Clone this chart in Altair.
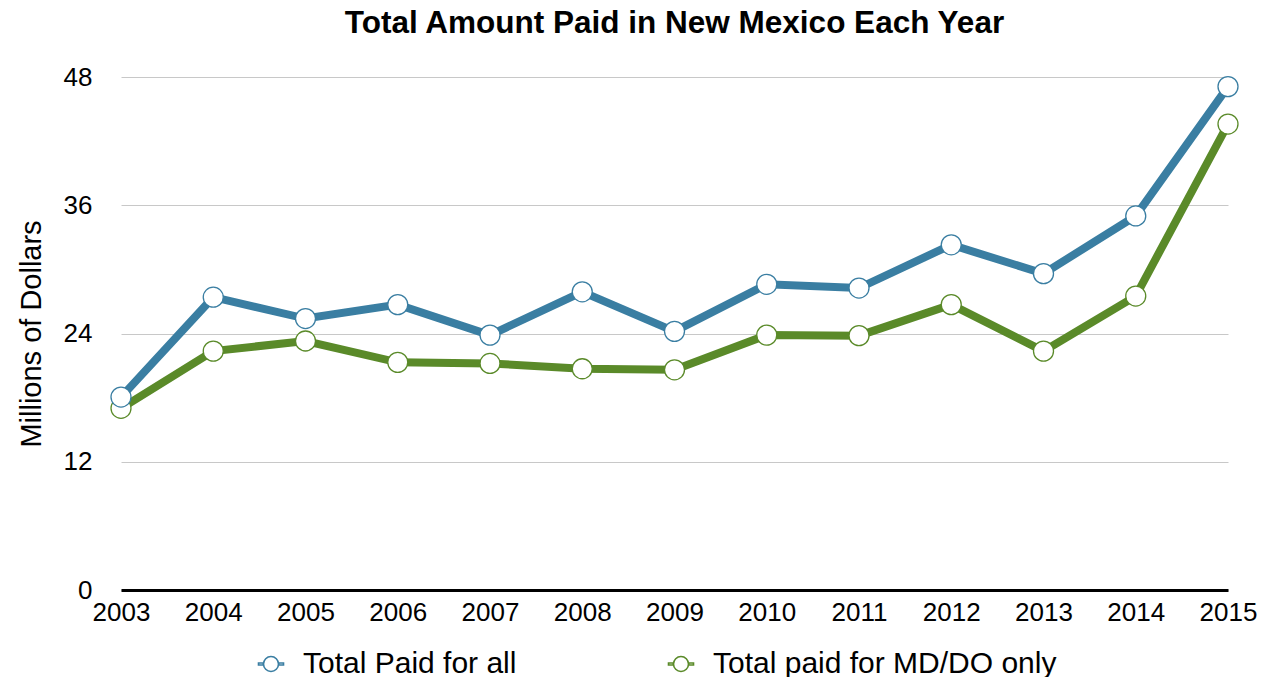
import altair as alt
import pandas as pd

years = ["2003", "2004", "2005", "2006", "2007", "2008", "2009", "2010", "2011", "2012", "2013", "2014", "2015"]
total_all = [18.05, 27.4, 25.4, 26.7, 23.85, 27.9, 24.2, 28.6, 28.25, 32.3, 29.6, 35.0, 47.1]
total_mddo = [17.0, 22.35, 23.3, 21.3, 21.2, 20.7, 20.6, 23.85, 23.8, 26.7, 22.35, 27.5, 43.6]
series_names = ["Total Paid for all", "Total paid for MD/DO only"]
series_colors = ["#3a7ea2", "#5a8a29"]
y_ticks = [0, 12, 24, 36, 48]

rows = []
for y, v in zip(years, total_mddo):
    rows.append({"year": y, "value": v, "series": series_names[1]})
for y, v in zip(years, total_all):
    rows.append({"year": y, "value": v, "series": series_names[0]})
df = pd.DataFrame(rows)

FONT = "Liberation Sans"

legend_path = (
    "M-1,-0.08 L-0.62,-0.08 L-0.62,0.08 L-1,0.08 Z "
    "M0.62,-0.08 L1,-0.08 L1,0.08 L0.62,0.08 Z "
    "M0.6,0 A0.6,0.6 0 1,1 -0.6,0 A0.6,0.6 0 1,1 0.6,0 Z"
)

x_enc = alt.X(
    "year:O",
    sort=years,
    scale=alt.Scale(type="point", padding=0),
    axis=alt.Axis(
        title=None, labelAngle=0, ticks=False, labelPadding=9,
        labelFontSize=26, labelFont=FONT, labelColor="black",
        domainColor="black", domainWidth=3, grid=False,
    ),
)
y_enc = alt.Y(
    "value:Q",
    scale=alt.Scale(domain=[0, 48], nice=False),
    axis=alt.Axis(
        title="Millions of Dollars", values=y_ticks, ticks=False, domain=False,
        labelAlign="right", labelBaseline="middle", labelFlush=False,
        labelPadding=29, labelFontSize=26, labelFont=FONT, labelColor="black",
        grid=True, gridColor="#c8c8c8", gridWidth=1,
        titleFont=FONT, titleFontSize=29, titleFontWeight="normal", titleColor="black",
        titlePadding=17,
    ),
)

color_scale = alt.Scale(domain=series_names, range=series_colors)

lines = alt.Chart(df).mark_line(strokeWidth=8).encode(
    x=x_enc,
    y=y_enc,
    color=alt.Color(
        "series:N",
        scale=color_scale,
        legend=alt.Legend(
            title=None, orient="none", direction="horizontal",
            legendX=135, legendY=572,
            symbolType=legend_path, symbolSize=625, symbolStrokeWidth=1.6,
            symbolFillColor="white",
            labelFont=FONT, labelFontSize=30, labelColor="black", labelLimit=600,
            labelOffset=17, columnPadding=148,
        ),
    ),
)

points = alt.Chart(df).mark_point(
    filled=False, fill="white", fillOpacity=1, size=400, strokeWidth=1.3, opacity=1
).encode(
    x=x_enc,
    y=y_enc,
    stroke=alt.Stroke("series:N", scale=color_scale, legend=None),
)

chart = (
    alt.layer(lines, points)
    .properties(
        width=1107,
        height=513,
        autosize=alt.AutoSizeParams(type="none"),
        padding={"left": 113, "top": 69, "right": 34, "bottom": 87},
        title=alt.Title(
            "Total Amount Paid in New Mexico Each Year",
            font=FONT, fontSize=31.5, fontWeight="bold", color="black",
            anchor="middle", baseline="alphabetic", frame="group", offset=0,
        ),
    )
    .configure_view(stroke=None)
)

chart.save("out.html", embed_options={"renderer": "svg", "actions": False})
